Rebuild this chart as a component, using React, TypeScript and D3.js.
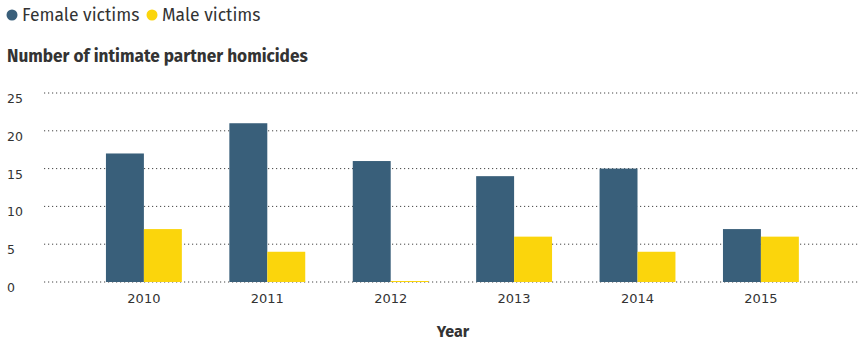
import React from "react";
import * as d3 from "d3";

const years = ["2010", "2011", "2012", "2013", "2014", "2015"];
const female = [17, 21, 16, 14, 15, 7];
const male = [7, 4, 0, 6, 4, 6];
const yTicks = [0, 5, 10, 15, 20, 25];
const seriesNames = ["Female victims", "Male victims"];
const colors = ["#395f7a", "#fbd50c"];

const W = 863;
const H = 343;
const FONT = "'Fira Sans', 'Open Sans', 'Noto Sans', sans-serif";
const TICKFONT = "'DejaVu Sans', Verdana, sans-serif";

export default function App() {
  const y = d3.scaleLinear().domain([0, 25]).range([282, 93]);
  const x = d3.scaleBand<string>().domain(years).range([82.5, 822.3]).paddingInner(0.385).paddingOuter(0.19);
  const sub = d3.scaleBand<string>().domain(["f", "m"]).range([0, x.bandwidth()]);
  const gridX0 = 44;
  const gridX1 = 860;
  return (
    <svg width={W} height={H} style={{ position: "absolute", left: 0, top: 0 }} fontFamily={FONT}>
      <rect width={W} height={H} fill="#fff" />
      {/* legend */}
      <circle cx={12} cy={15} r={5.5} fill={colors[0]} />
      <text x={22} y={21} fontSize={17.5} fill="#333">{seriesNames[0]}</text>
      <circle cx={152} cy={15} r={5.5} fill={colors[1]} />
      <text x={162} y={21} fontSize={17.5} fill="#333">{seriesNames[1]}</text>
      <text x={7} y={62} fontSize={17.2} fontWeight="bold" fill="#333">Number of intimate partner homicides</text>
      {yTicks.map((t) => (
        <g key={t}>
          <line x1={gridX0} x2={gridX1} y1={y(t)} y2={y(t)} stroke="#444" strokeWidth={1} strokeDasharray="1.2,2.8" />
          <text x={7} y={y(t) + 10} fontSize={12.5} fontFamily={TICKFONT} fill="#333">{t}</text>
        </g>
      ))}
      {years.map((yr, i) => (
        <g key={yr} transform={`translate(${x(yr)},0)`}>
          <rect x={sub("f")} width={sub.bandwidth()} y={y(female[i])} height={y(0) - y(female[i])} fill={colors[0]} />
          <rect x={sub("m")} width={sub.bandwidth()} y={y(male[i]) - (male[i] === 0 ? 1 : 0)} height={Math.max(1, y(0) - y(male[i]))} fill={colors[1]} />
          <text x={x.bandwidth() / 2} y={303} fontSize={13} fontFamily={TICKFONT} textAnchor="middle" fill="#333">{yr}</text>
        </g>
      ))}
      <text x={453} y={337} fontSize={16} fontWeight="bold" textAnchor="middle" fill="#333">Year</text>
    </svg>
  );
}
